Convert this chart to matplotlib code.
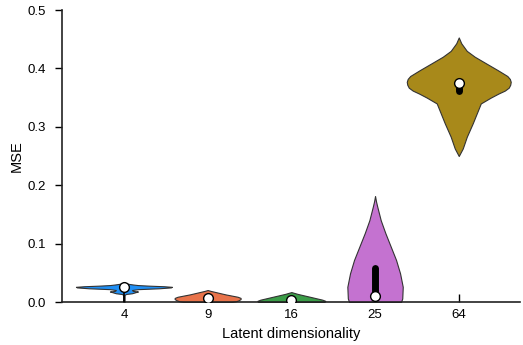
import numpy as np
import matplotlib.pyplot as plt

plt.rcParams['font.family'] = ['Liberation Sans', 'DejaVu Sans']

# ==============================
# DATA
# ==============================
labels = ["4", "9", "16", "25", "64"]
colors = ["#1f8ff5", "#e8734a", "#3b9d48", "#c472d0", "#a8891a"]

# violin outlines: MSE levels and half widths (category units)
v4_y = [0.0, 0.012, 0.0137, 0.015, 0.017, 0.018, 0.019, 0.0205, 0.022, 0.0235,
        0.025, 0.026, 0.027, 0.028, 0.029, 0.030, 0.031, 0.0325]
v4_w = [0.007, 0.007, 0.024, 0.096, 0.143, 0.167, 0.107, 0.096, 0.167, 0.418,
        0.561, 0.573, 0.478, 0.299, 0.167, 0.107, 0.06, 0.0]

v9_y = [0.0, 0.001, 0.003, 0.005, 0.007, 0.009, 0.011, 0.013, 0.015, 0.017, 0.019, 0.0205]
v9_w = [0.287, 0.334, 0.37, 0.394, 0.394, 0.358, 0.287, 0.215, 0.155, 0.096, 0.036, 0.0]

v16_y = [0.0, 0.002, 0.004, 0.006, 0.008, 0.010, 0.012, 0.014, 0.016, 0.017]
v16_w = [0.394, 0.406, 0.37, 0.31, 0.251, 0.191, 0.131, 0.072, 0.024, 0.0]

v25_y = [0.0, 0.006, 0.026, 0.049, 0.072, 0.095, 0.118, 0.140, 0.163, 0.172, 0.1815]
v25_w = [0.31, 0.325, 0.331, 0.299, 0.251, 0.187, 0.123, 0.068, 0.027, 0.012, 0.0]

v64_y = [0.25, 0.263, 0.283, 0.306, 0.323, 0.34, 0.35, 0.357, 0.362, 0.367, 0.372, 0.377,
         0.382, 0.387, 0.397, 0.408, 0.42, 0.43, 0.443, 0.453]
v64_w = [0.0, 0.048, 0.096, 0.167, 0.215, 0.263, 0.382, 0.475, 0.55, 0.597, 0.615, 0.621,
         0.61, 0.58, 0.466, 0.334, 0.191, 0.096, 0.03, 0.0]

outlines_y = [v4_y, v9_y, v16_y, v25_y, v64_y]
outlines_w = [v4_w, v9_w, v16_w, v25_w, v64_w]

# inner box: whisker low/high, quartiles, median
whisk_lo = [0.0, 0.003, 0.002, 0.0, 0.361]
whisk_hi = [0.026, 0.009, 0.006, 0.058, 0.377]
q1 = [0.024, 0.005, 0.003, 0.008, 0.361]
q3 = [0.026, 0.008, 0.005, 0.058, 0.377]
medians = [0.025, 0.0065, 0.004, 0.011, 0.375]

# ==============================
# PLOT
# ==============================
fig = plt.figure(figsize=(5.23, 3.45), dpi=100)
ax = fig.add_axes([0.1185, 0.1246, 0.8755, 0.8464])

for i in range(len(labels)):
    y = np.array(outlines_y[i])
    w = np.array(outlines_w[i])
    ax.fill_betweenx(y, i - w, i + w, facecolor=colors[i], edgecolor="#333333",
                     linewidth=0.8, zorder=2)
    ax.plot([i, i], [whisk_lo[i], whisk_hi[i]], color="black", lw=1.2, zorder=3)
    ax.plot([i, i], [q1[i], q3[i]], color="black", lw=5, solid_capstyle="round", zorder=3)
    ax.plot(i, medians[i], "o", ms=7, mfc="white", mec="black", mew=1.0, zorder=4)

ax.set_xlim(-0.74, 4.73)
ax.set_ylim(0, 0.5)
ax.set_xticks(range(len(labels)))
ax.set_xticklabels(labels)
ax.set_yticks([0.0, 0.1, 0.2, 0.3, 0.4, 0.5])
ax.set_yticklabels(["0.0", "0.1", "0.2", "0.3", "0.4", "0.5"])

ax.spines["top"].set_visible(False)
ax.spines["right"].set_visible(False)
for s in ["left", "bottom"]:
    ax.spines[s].set_linewidth(1.2)
    ax.spines[s].set_color("#222222")

ax.tick_params(axis="x", direction="in", length=6, width=1, labelsize=9.5, pad=5)
ax.tick_params(axis="y", direction="out", length=5, width=1, labelsize=9.5, pad=6.5)

ax.set_xlabel("Latent dimensionality", fontsize=10.5, labelpad=4)
ax.set_ylabel("MSE", fontsize=10.5, labelpad=3)

fig.savefig("out.png", dpi=100)
